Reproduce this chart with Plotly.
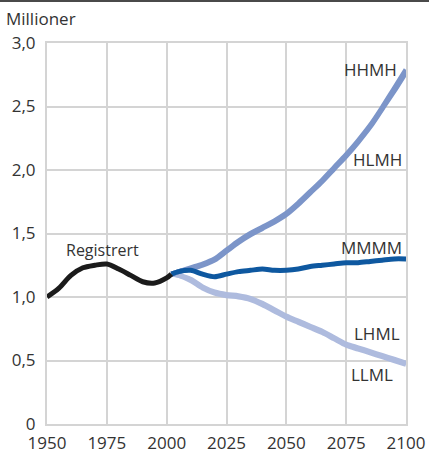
import plotly.graph_objects as go

# Registered population, millions
years_reg = [1950, 1955, 1960, 1965, 1970, 1975, 1980, 1985, 1990, 1995, 2000, 2002]
registrert = [1.00, 1.07, 1.17, 1.23, 1.25, 1.26, 1.22, 1.17, 1.12, 1.11, 1.15, 1.18]

# Projection alternatives, millions
years_proj = [2002, 2005, 2010, 2015, 2020, 2025, 2030, 2035, 2040, 2045, 2050,
              2055, 2060, 2065, 2070, 2075, 2080, 2085, 2090, 2095, 2100]
hhmh = [1.18, 1.20, 1.23, 1.26, 1.30, 1.37, 1.44, 1.50, 1.55, 1.60, 1.66,
        1.74, 1.83, 1.92, 2.02, 2.12, 2.23, 2.35, 2.49, 2.64, 2.79]
hlmh = [1.18, 1.20, 1.22, 1.25, 1.29, 1.36, 1.43, 1.49, 1.54, 1.59, 1.65,
        1.73, 1.82, 1.91, 2.01, 2.11, 2.22, 2.34, 2.48, 2.62, 2.77]
mmmm = [1.18, 1.20, 1.21, 1.18, 1.16, 1.18, 1.20, 1.21, 1.22, 1.21, 1.21,
        1.22, 1.24, 1.25, 1.26, 1.27, 1.27, 1.28, 1.29, 1.30, 1.30]
lhml = [1.18, 1.17, 1.14, 1.08, 1.04, 1.02, 1.01, 0.99, 0.95, 0.90, 0.85,
        0.81, 0.77, 0.73, 0.68, 0.63, 0.60, 0.57, 0.54, 0.51, 0.48]
llml = [1.18, 1.17, 1.13, 1.07, 1.03, 1.01, 1.00, 0.98, 0.94, 0.89, 0.84,
        0.80, 0.76, 0.72, 0.67, 0.62, 0.59, 0.56, 0.53, 0.50, 0.47]

x_ticks = [1950, 1975, 2000, 2025, 2050, 2075, 2100]
y_ticks = [0, 0.5, 1.0, 1.5, 2.0, 2.5, 3.0]
y_tick_labels = ["0", "0,5", "1,0", "1,5", "2,0", "2,5", "3,0"]

FONT = "Open Sans, Noto Sans, sans-serif"
C_HIGH = "#7c95c9"
C_MID = "#0e58a0"
C_LOW = "#aebbde"
C_REG = "#1b1b1b"
C_TEXT = "#333333"

fig = go.Figure()


def add_line(x, y, color, width=5):
    fig.add_trace(go.Scatter(x=x, y=y, mode="lines",
                             line=dict(color=color, width=width, shape="spline", smoothing=0.8),
                             hoverinfo="skip", showlegend=False))


add_line(years_proj, llml, C_LOW)
add_line(years_proj, lhml, C_LOW)
add_line(years_proj, hlmh, C_HIGH)
add_line(years_proj, hhmh, C_HIGH)
add_line(years_proj, mmmm, C_MID)
add_line(years_reg, registrert, C_REG, width=5)

labels = [
    ("HHMH", 2097, 2.79),
    ("HLMH", 2099, 2.08),
    ("MMMM", 2099, 1.39),
    ("LHML", 2098.5, 0.71),
    ("LLML", 2095.5, 0.39),
]
for text, lx, ly in labels:
    fig.add_annotation(x=lx, y=ly, text=text, showarrow=False, xanchor="right",
                       yanchor="middle", font=dict(family=FONT, size=17, color=C_TEXT))

fig.add_annotation(x=1957, y=1.37, text="Registrert", showarrow=False, xanchor="left",
                   yanchor="middle", font=dict(family=FONT, size=16, color=C_TEXT))

fig.add_annotation(x=0, y=1, xref="paper", yref="paper", xshift=-43, yshift=25,
                   text="Millioner", showarrow=False, xanchor="left", yanchor="middle",
                   font=dict(family=FONT, size=17, color=C_TEXT))

# dark rule across the top
fig.add_shape(type="line", xref="paper", yref="paper", x0=-0.2, x1=1.2, y0=1.11, y1=1.11,
              line=dict(color="#4a4a4a", width=2))

grid = "#d4d4d4"
fig.update_xaxes(range=[1950, 2100], tickvals=x_ticks, showgrid=True, gridcolor=grid,
                 gridwidth=2, zeroline=False, showline=True, linecolor=grid, linewidth=2,
                 mirror=True, ticks="", automargin=False, ticklabelstandoff=3,
                 tickfont=dict(family=FONT, size=17, color=C_TEXT))
fig.update_yaxes(range=[0, 3], tickvals=y_ticks, ticktext=y_tick_labels, showgrid=True,
                 gridcolor=grid, gridwidth=2, zeroline=False, showline=True, linecolor=grid,
                 linewidth=2, mirror=True, ticks="", ticklabelstandoff=6, automargin=False,
                 tickfont=dict(family=FONT, size=17, color=C_TEXT))

fig.update_layout(width=429, height=454, margin=dict(l=47, r=23, t=43, b=30, autoexpand=False),
                  plot_bgcolor="white", paper_bgcolor="white")

fig.write_html("out.html")
